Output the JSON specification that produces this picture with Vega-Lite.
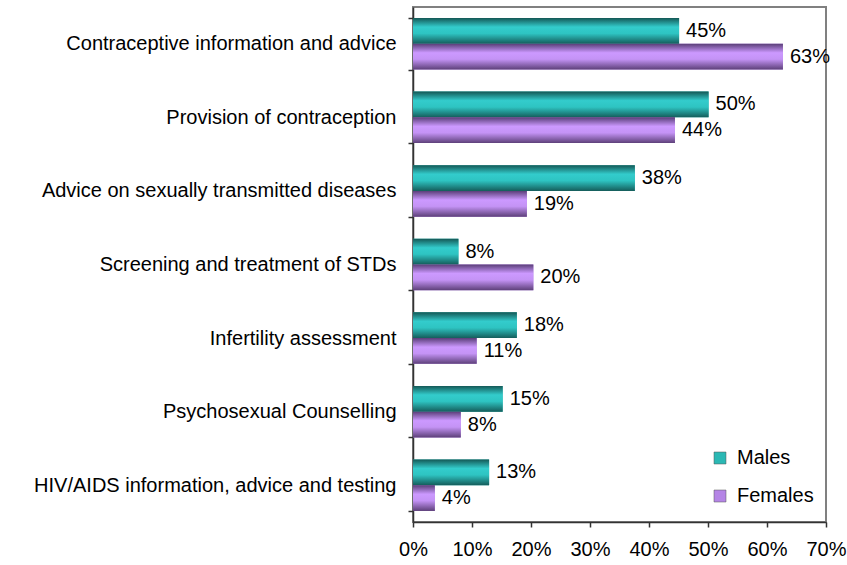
{
  "$schema": "https://vega.github.io/schema/vega-lite/v6.json",
  "width": 413,
  "height": 515,
  "autosize": {"type": "none"},
  "padding": {"left": 413, "top": 7, "right": 21, "bottom": 43},
  "background": "white",
  "config": {
    "font": "Liberation Sans",
    "view": {"stroke": "#808080", "strokeWidth": 2}
  },
  "data": {
    "values": [
      {"service": "Contraceptive information and advice", "sex": "Males", "value": 0.451},
      {"service": "Contraceptive information and advice", "sex": "Females", "value": 0.627},
      {"service": "Provision of contraception", "sex": "Males", "value": 0.501},
      {"service": "Provision of contraception", "sex": "Females", "value": 0.444},
      {"service": "Advice on sexually transmitted diseases", "sex": "Males", "value": 0.376},
      {"service": "Advice on sexually transmitted diseases", "sex": "Females", "value": 0.193},
      {"service": "Screening and treatment of STDs", "sex": "Males", "value": 0.077},
      {"service": "Screening and treatment of STDs", "sex": "Females", "value": 0.204},
      {"service": "Infertility assessment", "sex": "Males", "value": 0.176},
      {"service": "Infertility assessment", "sex": "Females", "value": 0.108},
      {"service": "Psychosexual Counselling", "sex": "Males", "value": 0.152},
      {"service": "Psychosexual Counselling", "sex": "Females", "value": 0.081},
      {"service": "HIV/AIDS information, advice and testing", "sex": "Males", "value": 0.129},
      {"service": "HIV/AIDS information, advice and testing", "sex": "Females", "value": 0.037}
    ]
  },
  "encoding": {
    "y": {
      "field": "service",
      "type": "nominal",
      "sort": null,
      "scale": {"paddingInner": 0.3, "paddingOuter": 0.15},
      "axis": {
        "title": null,
        "tickBand": "extent",
        "domainColor": "#333333",
        "domainWidth": 1.5,
        "tickColor": "#333333",
        "tickWidth": 1.5,
        "tickSize": 5,
        "labelFontSize": 20,
        "labelColor": "#000000",
        "labelPadding": 12,
        "labelLimit": 420
      }
    },
    "yOffset": {"field": "sex", "type": "nominal", "sort": ["Males", "Females"], "scale": {"paddingInner": 0, "paddingOuter": 0}},
    "x": {
      "field": "value",
      "type": "quantitative",
      "scale": {"domain": [0, 0.7], "nice": false},
      "axis": {
        "title": null,
        "format": ".0%",
        "values": [0, 0.1, 0.2, 0.3, 0.4, 0.5, 0.6, 0.7],
        "grid": false,
        "domainColor": "#333333",
        "domainWidth": 1.5,
        "tickColor": "#333333",
        "tickWidth": 1.5,
        "tickSize": 5,
        "labelFontSize": 20,
        "labelColor": "#000000",
        "labelPadding": 12,
        "labelFlush": false
      }
    }
  },
  "layer": [
    {
      "mark": {"type": "bar"},
      "encoding": {
        "color": {
          "field": "sex",
          "type": "nominal",
          "sort": ["Males", "Females"],
          "scale": {"domain": ["Males", "Females"], "range": ["#2bb8b4", "#b585e6"]},
          "legend": {
            "title": null,
            "orient": "none",
            "legendX": 297,
            "legendY": 441,
            "symbolType": "square",
            "symbolSize": 144,
            "symbolStrokeColor": "#555555",
            "symbolStrokeWidth": 0.5,
            "labelFontSize": 20,
            "labelColor": "#000000",
            "labelOffset": 7,
            "rowPadding": 18,
            "padding": 0
          }
        }
      }
    },
    {
      "mark": {"type": "bar"},
      "encoding": {
        "color": {
          "condition": {
            "test": "datum.sex === 'Males'",
            "value": {
              "gradient": "linear", "x1": 0, "y1": 0, "x2": 0, "y2": 1,
              "stops": [
                {"offset": 0, "color": "#145856"},
                {"offset": 0.35, "color": "#33cccc"},
                {"offset": 0.6, "color": "#2ec4c2"},
                {"offset": 1, "color": "#155d5b"}
              ]
            }
          },
          "value": {
            "gradient": "linear", "x1": 0, "y1": 0, "x2": 0, "y2": 1,
            "stops": [
              {"offset": 0, "color": "#5a3e78"},
              {"offset": 0.35, "color": "#cc99ff"},
              {"offset": 0.6, "color": "#c493f5"},
              {"offset": 1, "color": "#5d4079"}
            ]
          }
        }
      }
    },
    {
      "mark": {"type": "text", "align": "left", "baseline": "middle", "dx": 7, "fontSize": 20, "color": "#000000"},
      "encoding": {
        "text": {"field": "value", "type": "quantitative", "format": ".0%"}
      }
    }
  ]
}
